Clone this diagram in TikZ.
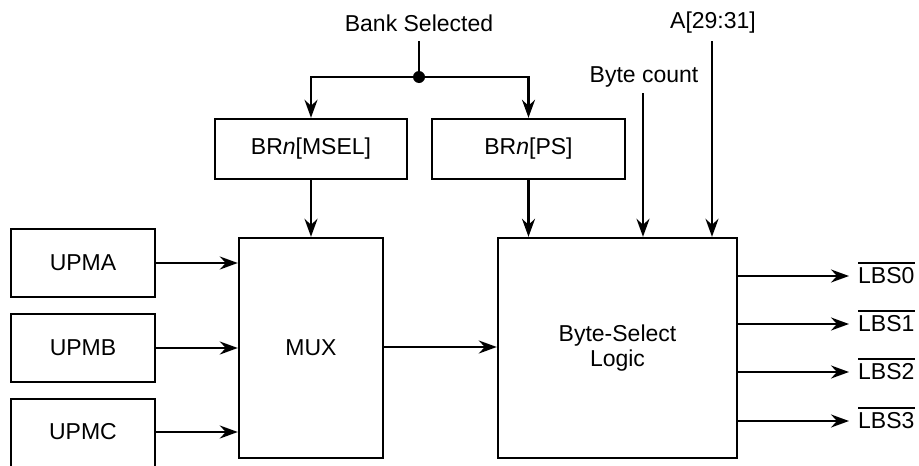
\documentclass[tikz,border=0pt]{standalone}
\usepackage{fontspec}
\setmainfont{Liberation Sans}
\usetikzlibrary{arrows.meta}
\begin{document}
\begin{tikzpicture}[x=1pt,y=-1pt,
  every node/.style={font=\fontsize{23}{27}\selectfont},
  blk/.style={draw,line width=2.4pt,inner sep=0pt,align=center},
  lbl/.style={inner sep=0pt},
  wire/.style={line width=2.4pt},
  arr/.style={line width=2.4pt,-{Stealth[length=18pt,width=13pt,inset=6pt]}}]
\useasboundingbox (0,0) rectangle (919,466);
% boxes
\node[blk,minimum width=192pt,minimum height=60pt] (msel) at (311,149) {BR\textit{n}[MSEL]};
\node[blk,minimum width=193pt,minimum height=60pt] (ps) at (528.5,149) {BR\textit{n}[PS]};
\node[blk,minimum width=144pt,minimum height=68pt] (upma) at (83,263) {UPMA};
\node[blk,minimum width=144pt,minimum height=68pt] (upmb) at (83,348) {UPMB};
\draw[wire] (11,467) -- (11,399) -- (155,399) -- (155,467);
\node[lbl] (upmc) at (83,432) {UPMC};
\coordinate (upmcR) at (155,432);
\node[blk,minimum width=144pt,minimum height=220pt] (mux) at (311,348) {MUX};
\node[blk,minimum width=239pt,minimum height=220pt] (bsl) at (617.5,348) {Byte-Select\\[-2pt]Logic};
% top labels
\node[lbl] (bank) at (419,23) {Bank Selected};
\node[lbl] (addr) at (713,23) {A[29:31]};
\node[lbl] (bcnt) at (644,77) {Byte count};
\coordinate (bankB) at (419,41);
\coordinate (dot) at (419,77);
\coordinate (addrB) at (712,41);
\coordinate (bcntB) at (643,93);
% bank selected distribution
\draw[wire] (bankB) -- (dot);
\fill (dot) circle (6pt);
\draw[arr] (dot) -- (msel.north |- dot) -- (msel.north);
\draw[arr] (dot) -- (ps.north |- dot) -- (ps.north);
% into mux / bsl
\draw[arr] (msel.south) -- (mux.north);
\draw[arr] (ps.south) -- (ps.south |- bsl.north);
\draw[arr] (bcntB) -- (bcntB |- bsl.north);
\draw[arr] (addrB) -- (addrB |- bsl.north);
\draw[arr] (upma.east) -- (upma.east -| mux.west);
\draw[arr] (upmb.east) -- (upmb.east -| mux.west);
\draw[arr] (upmcR) -- (upmcR -| mux.west);
\draw[arr] (mux.east |- 0,347) -- (bsl.west |- 0,347);
% outputs
\foreach \i/\y in {0/276,1/324,2/372,3/421}{
  \node[lbl,anchor=west] (lbs\i) at (858,\y) {LBS\i};
  \draw[line width=1.8pt] ([yshift=5pt]lbs\i.north west) -- ([yshift=5pt]lbs\i.north east);
  \draw[arr] (bsl.east |- lbs\i.west) -- (849,\y);
}
\end{tikzpicture}
\end{document}
